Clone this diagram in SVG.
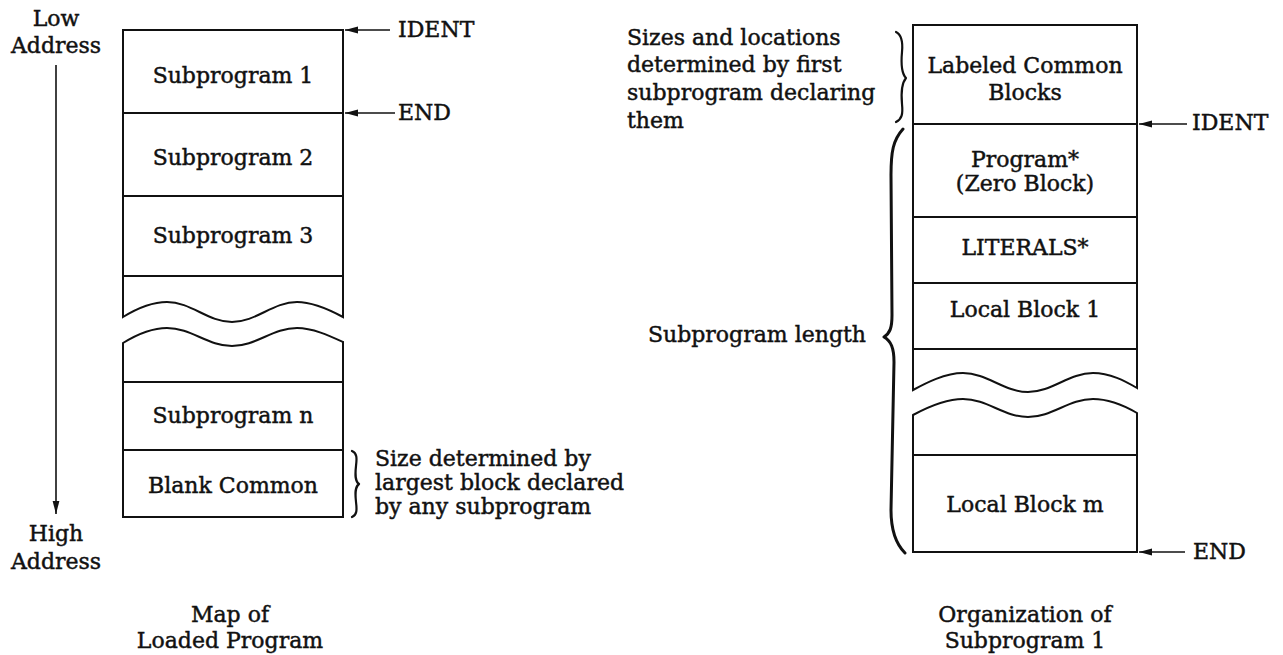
<svg xmlns="http://www.w3.org/2000/svg" width="1283" height="655" viewBox="0 0 1283 655">
<style>
text{font-family:"DejaVu Serif","Liberation Serif",serif;font-size:22px;fill:#111;stroke:#111;stroke-width:0.45}
.c{text-anchor:middle}
.box{fill:#fff;stroke:#111;stroke-width:2}
.ln{fill:none;stroke:#111;stroke-width:2}
.br{fill:none;stroke:#111;stroke-width:2.2;stroke-linecap:round;stroke-linejoin:round}
.ar{fill:none;stroke:#111;stroke-width:1.6}
</style>
<defs>
<marker id="ah" markerUnits="userSpaceOnUse" markerWidth="14" markerHeight="8" refX="13" refY="4" orient="auto">
<path d="M0,0.6 L13,4 L0,7.4 z" fill="#111"/>
</marker>
</defs>
<rect width="1283" height="655" fill="#fff"/>

<g id="left-axis">
<text class="c" x="56" y="26">Low</text>
<text class="c" x="56" y="53">Address</text>
<text class="c" x="56" y="541">High</text>
<text class="c" x="56" y="569">Address</text>
</g>

<g id="sub1"><rect class="box" x="123" y="30" width="220" height="83"/><text class="c" x="233" y="83">Subprogram 1</text></g>
<g id="sub2"><rect class="box" x="123" y="113" width="220" height="83"/><text class="c" x="233" y="165">Subprogram 2</text></g>
<g id="sub3"><rect class="box" x="123" y="196" width="220" height="80"/><text class="c" x="233" y="243">Subprogram 3</text></g>
<g id="gap-left-top"><path class="ln" d="M123,276 L123,317 C136,309 152,302 167,302 C191,302 208,322 232,322 C256,322 273,302 297,302 C313,302 330,310 343,317 L343,276"/></g>
<g id="gap-left-bottom"><path class="ln" d="M123,382 L123,343 C136,335 152,328 167,328 C191,328 208,346 232,346 C256,346 273,328 297,328 C313,328 330,336 343,342 L343,382"/></g>
<g id="subn"><rect class="box" x="123" y="382" width="220" height="68"/><text class="c" x="233" y="423">Subprogram n</text></g>
<g id="blank"><rect class="box" x="123" y="450" width="220" height="67"/><text class="c" x="233" y="493">Blank Common</text></g>

<g id="blank-note">
<path class="br" d="M352,451 C357,453 357,458 356,466 C355,475 355,481 359,484 C355,487 355,493 356,502 C357,510 357,515 352,517"/>
<text x="375" y="466">Size determined by</text>
<text x="375" y="490">largest block declared</text>
<text x="375" y="514">by any subprogram</text>
</g>

<g id="left-caption">
<text class="c" x="230" y="622">Map of</text>
<text class="c" x="230" y="648">Loaded Program</text>
</g>

<g id="right-labels">
<text x="627" y="45">Sizes and locations</text>
<text x="627" y="72">determined by first</text>
<text x="627" y="100">subprogram declaring</text>
<text x="627" y="128">them</text>
<text x="866" y="342" text-anchor="end">Subprogram length</text>
<path class="br" d="M896,32 C902,35 903,42 902,52 C901,63 901,73 906,78 C901,84 901,93 902,104 C903,114 902,119 896,122"/>
<path class="br" style="stroke-width:3" d="M903,129 C893,140 891,152 891,175 L892,315 C892,328 890,333 884,337 C891,341 894,348 894,362 L891,510 C891,530 895,543 905,553"/>
</g>

<g id="labeled"><rect class="box" x="913" y="25" width="224" height="99"/><text class="c" x="1025" y="73">Labeled Common</text><text class="c" x="1025" y="100">Blocks</text></g>
<g id="program"><rect class="box" x="913" y="124" width="224" height="93"/><text class="c" x="1025" y="167">Program*</text><text class="c" x="1025" y="191">(Zero Block)</text></g>
<g id="literals"><rect class="box" x="913" y="217" width="224" height="66"/><text class="c" x="1025" y="255">LITERALS*</text></g>
<g id="local1"><rect class="box" x="913" y="283" width="224" height="66"/><text class="c" x="1025" y="317">Local Block 1</text></g>
<g id="gap-right-top"><path class="ln" d="M913,349 L913,390 C926,383 945,373 963,373 C987,373 1004,392 1028,392 C1052,392 1069,373 1093,373 C1110,373 1125,381 1137,388 L1137,349"/></g>
<g id="gap-right-bottom"><path class="ln" d="M913,455 L913,415 C926,408 945,399 963,399 C987,399 1004,417 1028,417 C1052,417 1069,399 1093,399 C1110,399 1125,406 1137,413 L1137,455"/></g>
<g id="localm"><rect class="box" x="913" y="455" width="224" height="97"/><text class="c" x="1025" y="512">Local Block m</text></g>

<g id="right-caption">
<text class="c" x="1025" y="622">Organization of</text>
<text class="c" x="1025" y="648">Subprogram 1</text>
</g>

<g id="pointer-labels">
<text x="398" y="37">IDENT</text>
<text x="398" y="120">END</text>
<text x="1192" y="130">IDENT</text>
<text x="1193" y="559">END</text>
</g>

<g id="connectors">
<line class="ar" x1="56" y1="65" x2="56" y2="514" marker-end="url(#ah)"/>
<line class="ar" x1="390" y1="30" x2="345" y2="30" marker-end="url(#ah)"/>
<line class="ar" x1="395" y1="113" x2="345" y2="113" marker-end="url(#ah)"/>
<line class="ar" x1="1187" y1="124" x2="1139" y2="124" marker-end="url(#ah)"/>
<line class="ar" x1="1185" y1="552" x2="1139" y2="552" marker-end="url(#ah)"/>
</g>
</svg>
